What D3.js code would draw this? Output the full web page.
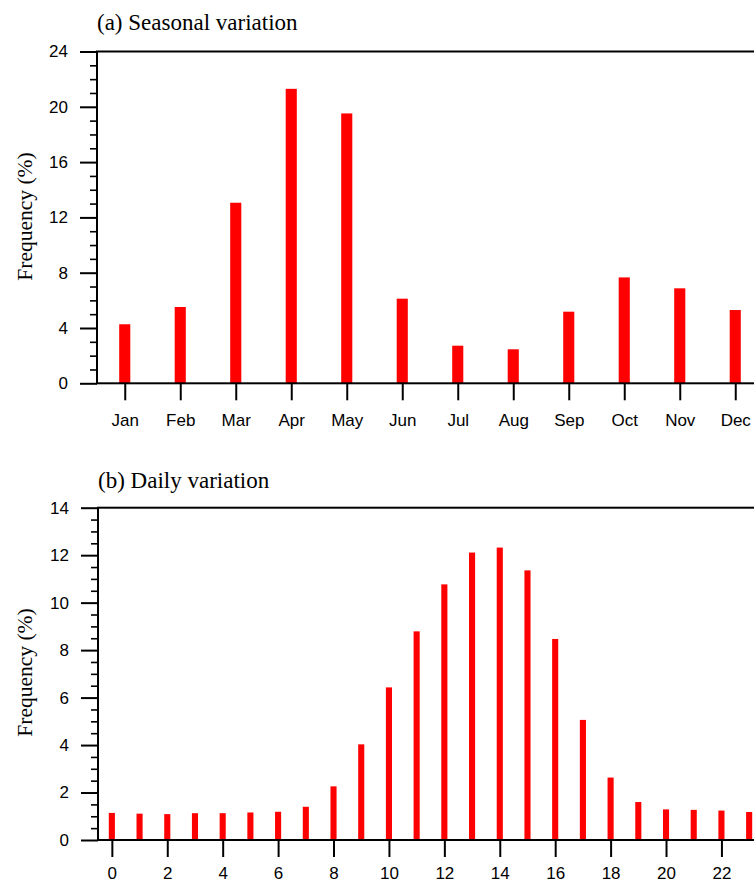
<!DOCTYPE html>
<html>
<head>
<meta charset="utf-8">
<script src="https://cdn.jsdelivr.net/npm/d3@7"></script>
<style>
  html, body { margin: 0; padding: 0; background: #fff; overflow: hidden; }
  svg { display: block; }
  .tick text { font-family: "Liberation Sans", Arial, Helvetica, sans-serif; font-size: 17px; fill: #000; }
  .ttl, .ylab { font-family: "Liberation Serif", "Times New Roman", serif; fill: #000; }
</style>
</head>
<body>
<script>
// Monthly frequency of events (%)
const months = ["Jan", "Feb", "Mar", "Apr", "May", "Jun", "Jul", "Aug", "Sep", "Oct", "Nov", "Dec"];
const monthlyFreq = [4.27, 5.52, 13.06, 21.3, 19.52, 6.12, 2.72, 2.46, 5.18, 7.66, 6.87, 5.3];
const monthlyTicks = [0, 4, 8, 12, 16, 20, 24];

// Hourly frequency of events (%)
const hours = d3.range(0, 24);
const hourlyFreq = [1.14, 1.11, 1.09, 1.13, 1.13, 1.16, 1.19, 1.40, 2.26, 4.03, 6.43, 8.79,
                    10.77, 12.11, 12.32, 11.36, 8.47, 5.06, 2.63, 1.60, 1.29, 1.27, 1.24, 1.18];
const hourlyTicks = [0, 2, 4, 6, 8, 10, 12, 14];
const hourLabels = [0, 2, 4, 6, 8, 10, 12, 14, 16, 18, 20, 22, 24];

const W = 754, H = 883;
const svg = d3.select("body").append("svg").attr("width", W).attr("height", H);

function panel(opts) {
  const { top, bottom, left, right, xDomain, xValues, yMax, yMajor, yMinorStep,
          values, xTickValues, xTickFormat, xPad, barFrac, title, titleY, labelY } = opts;
  const g = svg.append("g");
  const x = d3.scaleLinear().domain(xDomain).range([left, right]);
  const y = d3.scaleLinear().domain([0, yMax]).range([bottom, top]);
  const step = x(xDomain[0] + 1) - x(xDomain[0]);
  const bw = step * barFrac;

  // bars
  g.append("g").selectAll("rect").data(values).join("rect")
    .attr("x", (d, i) => x(xValues[i]) - bw / 2)
    .attr("y", d => y(d))
    .attr("width", bw)
    .attr("height", d => y(0) - y(d))
    .attr("fill", "#ff0000");

  // minor ticks on the y axis
  const minor = d3.range(0, yMax + 1e-9, yMinorStep).filter(v => !yMajor.includes(v));
  g.append("g").attr("transform", `translate(${left},0)`)
    .call(d3.axisLeft(y).tickValues(minor).tickSize(7).tickFormat(""))
    .call(s => s.select(".domain").remove())
    .call(s => s.selectAll("line").attr("stroke", "#000").attr("stroke-width", 1.6));

  // major ticks on the y axis
  g.append("g").attr("transform", `translate(${left},0)`)
    .call(d3.axisLeft(y).tickValues(yMajor).tickSize(17).tickPadding(12).tickFormat(d3.format("d")))
    .call(s => s.select(".domain").remove())
    .call(s => s.selectAll("line").attr("stroke", "#000").attr("stroke-width", 2));

  // x axis ticks and labels
  g.append("g").attr("transform", `translate(0,${bottom})`)
    .call(d3.axisBottom(x).tickValues(xTickValues).tickSize(17).tickPadding(xPad).tickFormat(xTickFormat))
    .call(s => s.select(".domain").remove())
    .call(s => s.selectAll("line").attr("stroke", "#000").attr("stroke-width", 2));

  // frame
  g.append("rect")
    .attr("x", left).attr("y", top)
    .attr("width", right - left).attr("height", bottom - top)
    .attr("fill", "none").attr("stroke", "#000").attr("stroke-width", 2);

  // title
  g.append("text").attr("class", "ttl")
    .attr("x", left).attr("y", titleY)
    .attr("font-size", 23)
    .text(title);

  // y axis label
  g.append("text").attr("class", "ylab")
    .attr("transform", `translate(31.5,${labelY}) rotate(-90)`)
    .attr("text-anchor", "middle")
    .attr("font-size", 21.5)
    .text("Frequency (%)");
}

panel({
  top: 51.5, bottom: 383.3, left: 97, right: 763,
  xDomain: [0.5, 12.5], xValues: d3.range(1, 13),
  yMax: 24, yMajor: monthlyTicks, yMinorStep: 1,
  values: monthlyFreq,
  xTickValues: d3.range(1, 13), xTickFormat: d => months[d - 1], xPad: 14,
  barFrac: 0.2,
  title: "(a) Seasonal variation", titleY: 29.5, labelY: 216.5
});

panel({
  top: 507.7, bottom: 840, left: 98, right: 763,
  xDomain: [-0.5, 23.5], xValues: hours,
  yMax: 14, yMajor: hourlyTicks, yMinorStep: 0.5,
  values: hourlyFreq,
  xTickValues: hourLabels.filter(h => h <= 23.5), xTickFormat: d3.format("d"), xPad: 10,
  barFrac: 0.22,
  title: "(b) Daily variation", titleY: 487.7, labelY: 672.5
});
</script>
</body>
</html>
